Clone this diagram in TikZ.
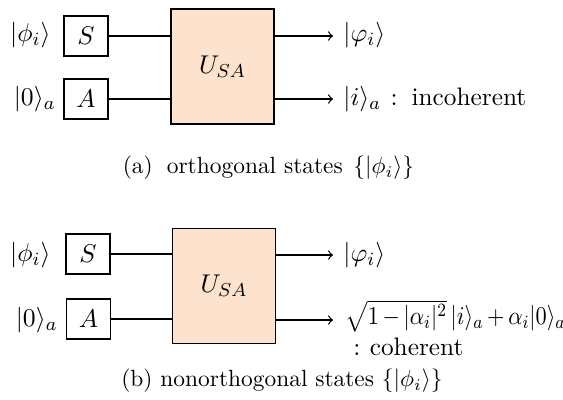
\documentclass[tikz,border=0pt]{standalone}
\usepackage{amsmath}
\usepackage{graphicx}
\definecolor{peach}{RGB}{253,226,206}
\begin{document}
\begin{tikzpicture}[x=0.427pt,y=-0.427pt,
  every node/.style={font=\fontsize{10.8}{13}\selectfont},
  smallbox/.style={draw,line width=0.75pt,minimum width=44*0.427pt,minimum height=40*0.427pt,inner sep=0pt},
  ubox/.style={draw,line width=0.75pt,fill=peach,minimum width=103*0.427pt,minimum height=115*0.427pt,inner sep=0pt},
  wire/.style={line width=0.55pt},
  outwire/.style={line width=0.55pt,->},
  lbl/.style={inner sep=0pt},
  captext/.style={inner sep=0pt,font=\normalsize}]
\useasboundingbox (0,0) rectangle (563,399);
% panel (a)
\node[smallbox] (S1) at (86,36) {$S$};
\node[smallbox] (A1) at (86,99) {$A$};
\node[ubox] (U1) at (222.5,66.5) {$U_{SA}$};
\node[lbl,anchor=east] (phi1) at (51,35) {$|\phi_i\rangle$};
\node[lbl,anchor=east] (zero1) at (56,99) {$|0\rangle_a$};
\coordinate (o1a) at (333,36);
\coordinate (o1b) at (333,99);
\draw[wire] (S1.east) -- (S1.east -| U1.west);
\draw[wire] (A1.east) -- (A1.east -| U1.west);
\draw[outwire] (o1a -| U1.east) -- (o1a);
\draw[outwire] (o1b -| U1.east) -- (o1b);
\node[lbl,anchor=west] (out1a) at (343,35) {$|\varphi_i\rangle$};
\node[lbl,anchor=west] (out1b) at (343,99) {$|i\rangle_a$\hspace{4pt}:\hspace{6pt}incoherent};
\node[captext] (capa) at (268.5,168) {(a)\hspace{6pt}orthogonal states\hspace{4.5pt}$\{|\phi_i\rangle\}$};
% panel (b)
\node[smallbox] (S2) at (88,254) {$S$};
\node[smallbox] (A2) at (88.5,319) {$A$};
\node[ubox] (U2) at (224,286) {$U_{SA}$};
\node[lbl,anchor=east] (phi2) at (51,255) {$|\phi_i\rangle$};
\node[lbl,anchor=east] (zero2) at (58,320) {$|0\rangle_a$};
\coordinate (o2a) at (333,255);
\coordinate (o2b) at (333,320);
\draw[wire] (S2.east) -- (S2.east -| U2.west);
\draw[wire] (A2.east) -- (A2.east -| U2.west);
\draw[outwire] (o2a -| U2.east) -- (o2a);
\draw[outwire] (o2b -| U2.east) -- (o2b);
\node[lbl,anchor=west] (out2a) at (343,255) {$|\varphi_i\rangle$};
\node[lbl,anchor=west] (out2b) at (345,316) {\scalebox{0.87}[1]{$\medmuskip=3mu\sqrt{1-|\alpha_i|^2}\,|i\rangle_a+\alpha_i|0\rangle_a$}};
\node[lbl,anchor=west] (out2c) at (353,347) {:\hspace{4pt}coherent};
\node[captext] (capb) at (282,381) {(b) nonorthogonal states $\{|\phi_i\rangle\}$};
\end{tikzpicture}
\end{document}
